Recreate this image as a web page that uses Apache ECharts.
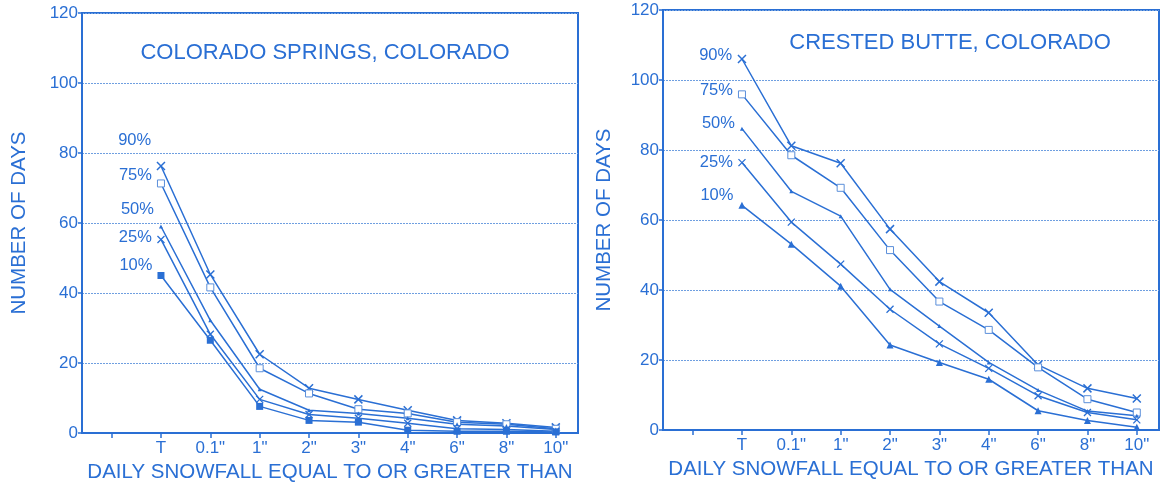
<!DOCTYPE html>
<html>
<head>
<meta charset="utf-8">
<script src="https://cdn.jsdelivr.net/npm/echarts@6/dist/echarts.min.js"></script>
<style>
  html, body { margin: 0; padding: 0; background: #ffffff; }
  #chart { width: 1170px; height: 484px; }
</style>
</head>
<body>
<div id="chart"></div>
<script>
// Snowfall thresholds along the x axis (slot 0 is an unlabeled tick)
const thresholds = ['', 'T', '0.1"', '1"', '2"', '3"', '4"', '6"', '8"', '10"'];
const yTicks = [0, 20, 40, 60, 80, 100, 120];
const percentiles = ['90%', '75%', '50%', '25%', '10%'];

// Colorado Springs: number of days at or above each threshold
const springs90 = [76.3, 45.3, 22.5, 12.8, 9.6, 6.5, 3.6, 2.8, 1.6];
const springs75 = [71.3, 41.6, 18.5, 11.3, 6.8, 5.6, 3.1, 2.5, 1.2];
const springs50 = [59.0, 32.2, 12.5, 6.5, 5.6, 4.2, 2.5, 2.0, 1.0];
const springs25 = [55.3, 28.2, 9.6, 5.3, 4.2, 2.8, 1.2, 1.0, 0.5];
const springs10 = [45.0, 26.5, 7.6, 3.6, 3.1, 0.8, 0.5, 0.5, 0.3];

// Crested Butte: number of days at or above each threshold
const butte90 = [106.0, 81.2, 76.2, 57.4, 42.4, 33.5, 18.6, 11.9, 9.0];
const butte75 = [95.9, 78.5, 69.2, 51.4, 36.7, 28.6, 17.9, 8.8, 5.0];
const butte50 = [86.1, 68.2, 61.1, 40.2, 29.7, 19.3, 11.4, 5.4, 4.1];
const butte25 = [76.4, 59.4, 47.4, 34.5, 24.6, 17.6, 9.8, 5.0, 2.9];
const butte10 = [64.2, 53.1, 41.1, 24.3, 19.3, 14.5, 5.5, 2.7, 0.8];

const BLUE = '#2a6fd4';
const GRID_BLUE = '#6f9fe0';
const FONT = 'Liberation Sans, Arial, sans-serif';

const crossPath = 'path://M0,0L10,10M10,0L0,10';

const styles = {
  '90%': { symbol: crossPath, symbolSize: 8, itemStyle: { color: 'rgba(0,0,0,0)', borderColor: BLUE, borderWidth: 1.5 } },
  '75%': { symbol: 'rect', symbolSize: 7, itemStyle: { color: '#ffffff', borderColor: '#5b8fda', borderWidth: 1 } },
  '50%': { symbol: 'triangle', symbolSize: 4, itemStyle: { color: BLUE } },
  '25%': { symbol: crossPath, symbolSize: 7, itemStyle: { color: 'rgba(0,0,0,0)', borderColor: BLUE, borderWidth: 1.3 } },
  '10%sq': { symbol: 'rect', symbolSize: 7, itemStyle: { color: BLUE } },
  '10%tri': { symbol: 'triangle', symbolSize: 7, itemStyle: { color: BLUE } }
};

function buildSeries(idx, name, values, style, labelOffset) {
  const data = values.map((v, i) => {
    const item = { value: [i + 1, v] };
    if (i === 0) {
      item.label = {
        show: true, position: 'left', distance: 5, offset: labelOffset,
        formatter: name, color: BLUE, fontSize: 16.5, fontFamily: FONT
      };
    }
    return item;
  });
  return Object.assign({
    type: 'line', name: name, xAxisIndex: idx, yAxisIndex: idx,
    data: data, lineStyle: { color: BLUE, width: 1.5 },
    symbolKeepAspect: true, animation: false, z: 3
  }, style);
}

function xAxis(idx) {
  return {
    type: 'value', gridIndex: idx, min: -0.6, max: 9.45,
    name: 'DAILY SNOWFALL EQUAL TO OR GREATER THAN',
    nameLocation: 'middle', nameGap: 28,
    nameTextStyle: { color: BLUE, fontSize: 20.5, fontFamily: FONT },
    axisLine: { onZero: false, lineStyle: { color: BLUE, width: 2 } },
    axisTick: { show: true, length: 5, lineStyle: { color: BLUE, width: 1.5 },
      customValues: thresholds.map((t, i) => i) },
    axisLabel: { color: BLUE, fontSize: 17, fontFamily: FONT, margin: 7,
      customValues: thresholds.map((t, i) => i).slice(1),
      formatter: v => thresholds[Math.round(v)] },
    splitLine: { show: false }
  };
}

function yAxis(idx, gap) {
  return {
    type: 'value', gridIndex: idx, min: yTicks[0], max: yTicks[yTicks.length - 1], interval: 20,
    name: 'NUMBER OF DAYS', nameLocation: 'middle', nameGap: gap, nameRotate: 90,
    nameTextStyle: { color: BLUE, fontSize: 20.5, fontFamily: FONT },
    axisLine: { show: true, onZero: false, lineStyle: { color: BLUE, width: 2 } },
    axisTick: { show: true, length: 4, lineStyle: { color: BLUE, width: 1.5 } },
    axisLabel: { color: BLUE, fontSize: 17, fontFamily: FONT, margin: 4 },
    splitLine: { show: true, lineStyle: { color: GRID_BLUE, type: [2, 1], width: 1 } }
  };
}

const gridBase = { show: true, borderColor: BLUE, borderWidth: 2, backgroundColor: 'transparent',
  containLabel: false, outerBoundsMode: 'none' };

const chart = echarts.init(document.getElementById('chart'), null, { renderer: 'canvas' });
chart.setOption({
  backgroundColor: '#ffffff',
  animation: false,
  title: [
    { text: 'COLORADO SPRINGS, COLORADO', left: 320, top: 37, textAlign: 'center',
      textStyle: { color: BLUE, fontSize: 22, fontWeight: 'normal', fontFamily: FONT } },
    { text: 'CRESTED BUTTE, COLORADO', left: 945, top: 27, textAlign: 'center',
      textStyle: { color: BLUE, fontSize: 22, fontWeight: 'normal', fontFamily: FONT } }
  ],
  grid: [
    Object.assign({ left: 82, top: 13, width: 496, height: 420 }, gridBase),
    Object.assign({ left: 663, top: 10, width: 496, height: 420 }, gridBase)
  ],
  xAxis: [xAxis(0), xAxis(1)],
  yAxis: [yAxis(0, 52), yAxis(1, 48)],
  series: [
    buildSeries(0, percentiles[0], springs90, styles['90%'], [0, -25]),
    buildSeries(0, percentiles[1], springs75, styles['75%'], [0, -8]),
    buildSeries(0, percentiles[2], springs50, styles['50%'], [0, -17]),
    buildSeries(0, percentiles[3], springs25, styles['25%'], [0, -2]),
    buildSeries(0, percentiles[4], springs10, styles['10%sq'], [0, -10]),
    buildSeries(1, percentiles[0], butte90, styles['90%'], [0, -4]),
    buildSeries(1, percentiles[1], butte75, styles['75%'], [0, -4]),
    buildSeries(1, percentiles[2], butte50, styles['50%'], [0, -5]),
    buildSeries(1, percentiles[3], butte25, styles['25%'], [0, 0]),
    buildSeries(1, percentiles[4], butte10, styles['10%tri'], [0, -10])
  ]
});
</script>
</body>
</html>
